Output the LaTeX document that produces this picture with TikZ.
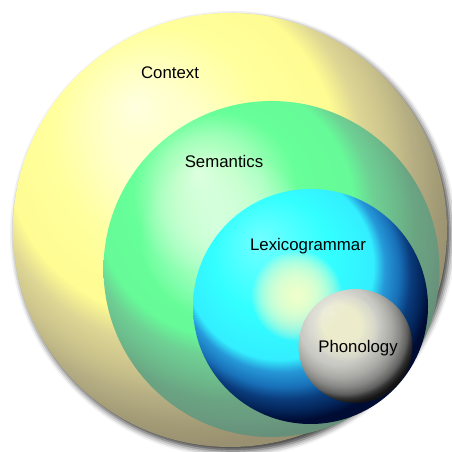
\documentclass[tikz,border=0pt]{standalone}
\usepackage{fontspec}
\setmainfont{Liberation Sans}
\usetikzlibrary{shadows.blur}

% colours of the four rings, from highlight to shadow side
\definecolor{ctxA}{HTML}{FFFFE0}
\definecolor{ctxB}{HTML}{FFFFB8}
\definecolor{ctxC}{HTML}{FFFF9C}
\definecolor{ctxD}{HTML}{FEFC92}
\definecolor{ctxE}{HTML}{DED694}
\definecolor{ctxF}{HTML}{C8C08A}
\definecolor{ctxG}{HTML}{B4AC82}
\definecolor{ctxH}{HTML}{A49C76}
\definecolor{ctxI}{HTML}{989070}
\definecolor{ctxJ}{HTML}{908868}

\definecolor{semA}{HTML}{D8FFD8}
\definecolor{semB}{HTML}{A0FFB8}
\definecolor{semC}{HTML}{66FF99}
\definecolor{semD}{HTML}{66FA98}
\definecolor{semE}{HTML}{6ED094}
\definecolor{semF}{HTML}{6CB88A}
\definecolor{semG}{HTML}{6AA482}
\definecolor{semH}{HTML}{6A9C80}
\definecolor{semI}{HTML}{66907A}
\definecolor{semJ}{HTML}{5E8870}

\definecolor{lexA}{HTML}{70FFFF}
\definecolor{lexB}{HTML}{33FFFF}
\definecolor{lexC}{HTML}{33EEFF}
\definecolor{lexD}{HTML}{2698D8}
\definecolor{lexE}{HTML}{1870B8}
\definecolor{lexF}{HTML}{0A3C7C}
\definecolor{lexG}{HTML}{032458}
\definecolor{lexH}{HTML}{000C34}
\definecolor{lexI}{HTML}{000820}

\definecolor{phoA}{HTML}{F0F0E4}
\definecolor{phoB}{HTML}{D8D8D0}
\definecolor{phoC}{HTML}{C8C8C4}
\definecolor{phoD}{HTML}{B8B8B2}
\definecolor{phoE}{HTML}{A8A8A4}
\definecolor{phoF}{HTML}{888886}
\definecolor{phoG}{HTML}{606060}
\definecolor{phoH}{HTML}{303030}
\definecolor{phoI}{HTML}{141414}

\definecolor{glowyellow}{HTML}{FFFFCC}

% lit from the upper left (the rim of the path sits at 25bp)
\pgfdeclareradialshading{contextshade}{\pgfpoint{-11bp}{14.5bp}}{%
  color(0bp)=(ctxA); color(7.5bp)=(ctxB); color(12.5bp)=(ctxC); color(19bp)=(ctxD);
  color(21.5bp)=(ctxE); color(24.5bp)=(ctxF); color(26.5bp)=(ctxG); color(28.5bp)=(ctxH);
  color(30.5bp)=(ctxI); color(50bp)=(ctxJ)}
\pgfdeclareradialshading{semanticshade}{\pgfpoint{-11bp}{14.5bp}}{%
  color(0bp)=(semA); color(7.5bp)=(semB); color(12.5bp)=(semC); color(19bp)=(semD);
  color(21.5bp)=(semE); color(24.5bp)=(semF); color(26.5bp)=(semG); color(28.5bp)=(semH);
  color(30.5bp)=(semI); color(50bp)=(semJ)}
\pgfdeclareradialshading{lexshade}{\pgfpoint{-11bp}{14.5bp}}{%
  color(0bp)=(lexA); color(12.5bp)=(lexB); color(20bp)=(lexC); color(22bp)=(lexD);
  color(24.5bp)=(lexE); color(26.5bp)=(lexF); color(28.5bp)=(lexG); color(30bp)=(lexH);
  color(50bp)=(lexI)}
\pgfdeclareradialshading{phonshade}{\pgfpoint{-11bp}{14.5bp}}{%
  color(0bp)=(phoA); color(12.5bp)=(phoB); color(17.5bp)=(phoC); color(20bp)=(phoD);
  color(22bp)=(phoE); color(25bp)=(phoF); color(27.5bp)=(phoG); color(29bp)=(phoH);
  color(30.5bp)=(phoI); color(50bp)=(black)}

\begin{document}
\begin{tikzpicture}[
  x=1pt, y=1pt,
  ring/.style={font=\fontsize{16.8}{20}\selectfont, text=black}
]
\useasboundingbox (0,0) rectangle (452,452);

\coordinate (ctx) at (230,222);
\coordinate (sem) at (271.5,183);
\coordinate (lex) at (310.5,145.5);
\coordinate (pho) at (355.5,106);

% outer ring with its drop shadow
\shade[shading=contextshade,
  blur shadow={shadow xshift=3pt, shadow yshift=-4pt, shadow blur radius=6pt, shadow opacity=80}]
  (ctx) circle[radius=217];
% soft spots of light, one stacked disc at a time
\foreach \k in {1,...,30}
  \fill[white, opacity=0.02] (190,252) circle[radius=3.8*\k];

\shade[shading=semanticshade] (sem) circle[radius=168];
\foreach \k in {1,...,30}
  \fill[white, opacity=0.035] (225,217) circle[radius=2.8*\k];

\shade[shading=lexshade] (lex) circle[radius=117.5];
\foreach \k in {1,...,30}
  \fill[glowyellow, opacity=0.09] (297,156) circle[radius=1.5*\k];

\shade[shading=phonshade] (pho) circle[radius=57];
\foreach \k in {1,...,30}
  \fill[glowyellow, opacity=0.05] (347,123) circle[radius=1.1*\k];

\node[ring] (context) at (170,379) {Context};
\node[ring] (semantics) at (224,291) {Semantics};
\node[ring] (lexicogrammar) at (308,206) {Lexicogrammar};
\node[ring] (phonology) at (358,104) {Phonology};
\end{tikzpicture}
\end{document}
